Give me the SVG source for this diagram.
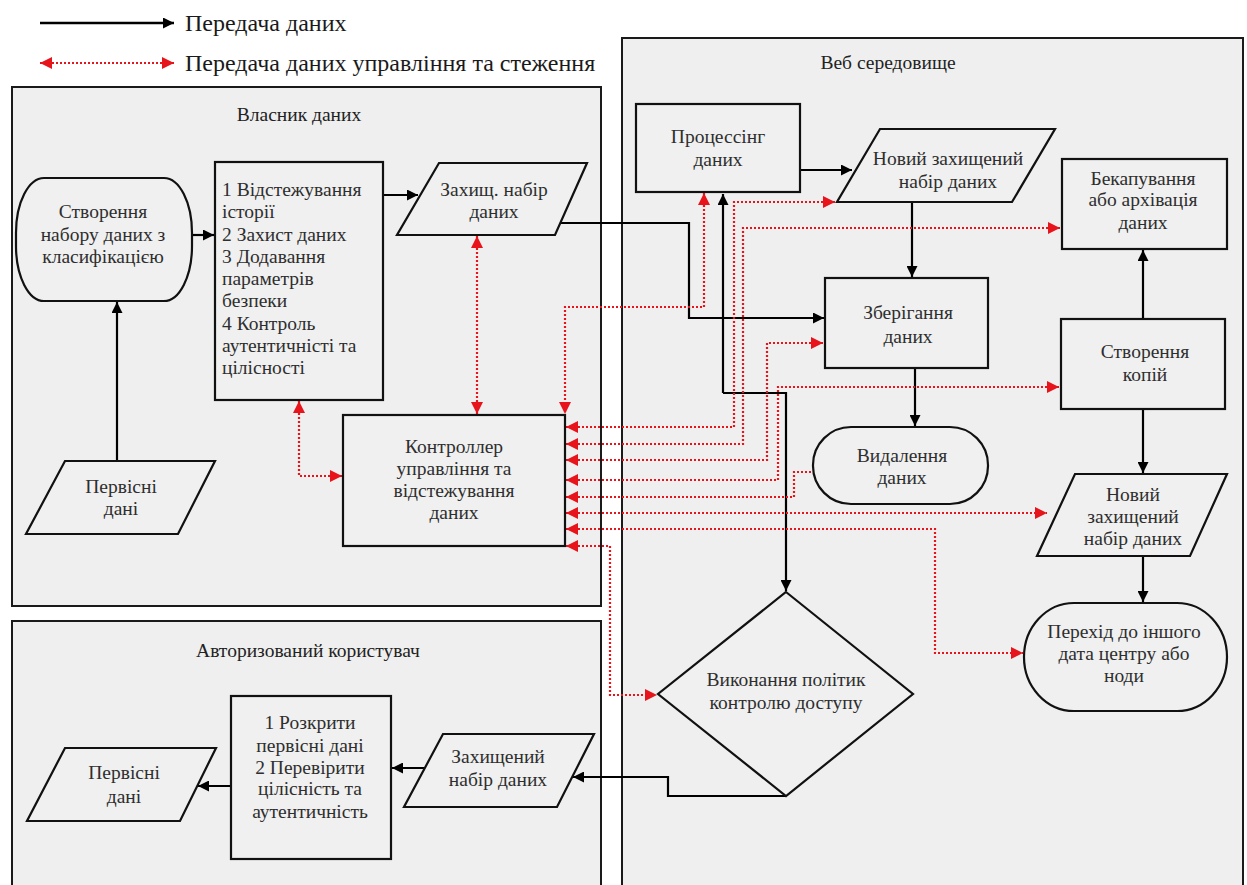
<svg xmlns="http://www.w3.org/2000/svg" width="1247" height="885" viewBox="0 0 1247 885">
<defs>
<style>
.panel{fill:#efefef;stroke:#1a1a1a;stroke-width:2}
.node{fill:#f0f0f0;stroke:#111;stroke-width:2.2}
.t{font-family:"Liberation Serif","Times New Roman","DejaVu Serif",serif;font-size:19.5px;fill:#2e2e2e}
.c{text-anchor:middle}
.title{font-family:"Liberation Serif","Times New Roman","DejaVu Serif",serif;font-size:19.5px;fill:#222;text-anchor:middle}
.leg{font-family:"Liberation Serif","Times New Roman","DejaVu Serif",serif;font-size:24px;fill:#1a1a1a}
.blk{fill:none;stroke:#000;stroke-width:2.2;marker-end:url(#ab)}
.red{fill:none;stroke:#e8141b;stroke-width:2.2;stroke-dasharray:2 2}
.r2{marker-start:url(#ar);marker-end:url(#ar)}
.r1{marker-start:url(#ar)}
</style>
<marker id="ab" viewBox="0 0 10 10" refX="10" refY="5" markerWidth="11" markerHeight="11" markerUnits="userSpaceOnUse" orient="auto-start-reverse"><path d="M0,0 L10,5 L0,10 z" fill="#000"/></marker>
<marker id="ar" viewBox="0 0 10 10" refX="10" refY="5" markerWidth="12" markerHeight="12" markerUnits="userSpaceOnUse" orient="auto-start-reverse"><path d="M0,0 L10,5 L0,10 z" fill="#e8141b"/></marker>
</defs>
<rect width="1247" height="885" fill="#fff"/>

<g id="legend">
<line x1="40" y1="23" x2="174" y2="23" stroke="#000" stroke-width="2.5" marker-end="url(#ab)"/>
<text class="leg" x="185" y="31">Передача даних</text>
<line x1="40" y1="63" x2="174" y2="63" class="red r2" stroke-width="2.5"/>
<text class="leg" x="185" y="71">Передача даних управління та стеження</text>
</g>

<g id="panel-owner">
<rect class="panel" x="12" y="87" width="589" height="519"/>
<text class="title" x="299" y="121">Власник даних</text>
</g>
<g id="panel-user">
<rect class="panel" x="12" y="621" width="589" height="275"/>
<text class="title" x="308" y="657">Авторизований користувач</text>
</g>
<g id="panel-web">
<rect class="panel" x="622" y="38" width="621" height="858"/>
<text class="title" x="888" y="69">Веб середовище</text>
</g>

<g id="connectors">
<!-- black -->
<path class="blk" d="M192,235 L214,235"/>
<path class="blk" d="M383,195 L418,195"/>
<path class="blk" d="M117,461 L117,302"/>
<path class="blk" d="M560,223 L689,223 L689,318 L824,318"/>
<path class="blk" d="M800,170 L852,170"/>
<path class="blk" d="M912,202 L912,277"/>
<path class="blk" d="M915,368 L915,426"/>
<path class="blk" d="M1143,319 L1143,250"/>
<path class="blk" d="M1143,409 L1143,473"/>
<path class="blk" d="M1143,556 L1143,602"/>
<path class="blk" d="M723,393 L723,194" />
<path class="blk" d="M723,393 L786,393 L786,591"/>
<path class="blk" d="M786,796 L668,796 L668,777 L573,777"/>
<path class="blk" d="M425,768 L392,768"/>
<path class="blk" d="M231,786 L198,786"/>
<!-- red -->
<path class="red r2" d="M299,401 L299,476 L342,476"/>
<path class="red r2" d="M477,236 L477,414"/>
<path class="red r2" d="M704,193 L704,307 L565,307 L565,414"/>
<path class="red r2" d="M566,427 L734,427 L734,202 L835,202"/>
<path class="red r2" d="M566,444 L743,444 L743,228 L1060,228"/>
<path class="red r2" d="M566,460 L767,460 L767,343 L823,343"/>
<path class="red r2" d="M566,480 L778,480 L778,387 L1059,387"/>
<path class="red r1" d="M566,497 L794,497 L794,472 L813,472"/>
<path class="red r2" d="M566,513 L1047,513"/>
<path class="red r2" d="M566,529 L935,529 L935,653 L1023,653"/>
<path class="red r2" d="M566,546 L610,546 L610,695 L657,695"/>
</g>

<g id="n-create">
<rect class="node" x="16" y="178" width="176" height="123" rx="28" ry="55"/>
<text class="t c" x="103" y="218">Створення</text>
<text class="t c" x="103" y="241">набору даних з</text>
<text class="t c" x="103" y="263">класифікацією</text>
</g>
<g id="n-steps">
<rect class="node" x="215" y="162" width="168" height="238"/>
<text class="t" x="222" y="196">1 Відстежування</text>
<text class="t" x="222" y="218">історії</text>
<text class="t" x="222" y="241">2 Захист даних</text>
<text class="t" x="222" y="263">3 Додавання</text>
<text class="t" x="222" y="285">параметрів</text>
<text class="t" x="222" y="307">безпеки</text>
<text class="t" x="222" y="330">4 Контроль</text>
<text class="t" x="222" y="352">аутентичністі та</text>
<text class="t" x="222" y="374">цілісності</text>
</g>
<g id="n-secset">
<polygon class="node" points="439,163 587,163 555,235 397,235"/>
<text class="t c" x="494" y="196">Захищ. набір</text>
<text class="t c" x="494" y="218">даних</text>
</g>
<g id="n-raw1">
<polygon class="node" points="65,461 215,461 178,534 26,534"/>
<text class="t c" x="121" y="493">Первісні</text>
<text class="t c" x="121" y="515">дані</text>
</g>
<g id="n-controller">
<rect class="node" x="343" y="415" width="222" height="131"/>
<text class="t c" x="454" y="453">Контроллер</text>
<text class="t c" x="454" y="475">управління та</text>
<text class="t c" x="454" y="497">відстежування</text>
<text class="t c" x="454" y="519">даних</text>
</g>
<g id="n-processing">
<rect class="node" x="636" y="104" width="164" height="88"/>
<text class="t c" x="718" y="143">Процессінг</text>
<text class="t c" x="718" y="166">даних</text>
</g>
<g id="n-newset1">
<polygon class="node" points="880,129 1055,129 1012,202 837,202"/>
<text class="t c" x="948" y="165">Новий захищений</text>
<text class="t c" x="948" y="188">набір даних</text>
</g>
<g id="n-storage">
<rect class="node" x="825" y="278" width="163" height="90"/>
<text class="t c" x="908" y="319">Зберігання</text>
<text class="t c" x="908" y="343">даних</text>
</g>
<g id="n-delete">
<rect class="node" x="813" y="427" width="175" height="77" rx="38" ry="38"/>
<text class="t c" x="902" y="462">Видалення</text>
<text class="t c" x="902" y="484">даних</text>
</g>
<g id="n-backup">
<rect class="node" x="1062" y="159" width="165" height="90"/>
<text class="t c" x="1143" y="185">Бекапування</text>
<text class="t c" x="1143" y="206">або архівація</text>
<text class="t c" x="1143" y="229">даних</text>
</g>
<g id="n-copies">
<rect class="node" x="1061" y="319" width="164" height="90"/>
<text class="t c" x="1145" y="358">Створення</text>
<text class="t c" x="1145" y="381">копій</text>
</g>
<g id="n-newset2">
<polygon class="node" points="1075,474 1227,474 1190,556 1037,556"/>
<text class="t c" x="1133" y="501">Новий</text>
<text class="t c" x="1133" y="523">захищений</text>
<text class="t c" x="1133" y="545">набір даних</text>
</g>
<g id="n-move">
<rect class="node" x="1024" y="603" width="203" height="108" rx="50" ry="54"/>
<text class="t c" x="1124" y="638">Перехід до іншого</text>
<text class="t c" x="1124" y="660">дата центру або</text>
<text class="t c" x="1124" y="682">ноди</text>
</g>
<g id="n-policy">
<polygon class="node" points="786,592 913,694 786,796 658,694"/>
<text class="t c" x="786" y="686">Виконання політик</text>
<text class="t c" x="786" y="709">контролю доступу</text>
</g>
<g id="n-secset2">
<polygon class="node" points="443,734 594,734 557,807 404,807"/>
<text class="t c" x="498" y="763">Захищений</text>
<text class="t c" x="498" y="786">набір даних</text>
</g>
<g id="n-reveal">
<rect class="node" x="231" y="696" width="160" height="163"/>
<text class="t c" x="310" y="729">1 Розкрити</text>
<text class="t c" x="310" y="752">первісні дані</text>
<text class="t c" x="310" y="774">2 Перевірити</text>
<text class="t c" x="310" y="795">цілісність та</text>
<text class="t c" x="310" y="818">аутентичність</text>
</g>
<g id="n-raw2">
<polygon class="node" points="65,748 216,748 180,821 27,821"/>
<text class="t c" x="124" y="779">Первісні</text>
<text class="t c" x="124" y="803">дані</text>
</g>
</svg>
